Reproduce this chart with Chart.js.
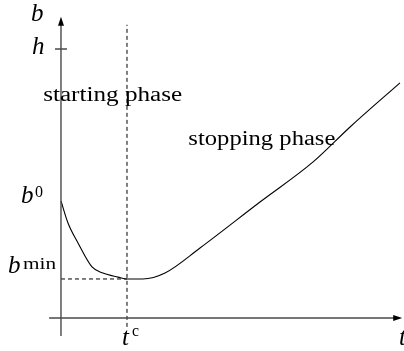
<!DOCTYPE html>
<html>
<head>
<meta charset="utf-8">
<script src="https://cdn.jsdelivr.net/npm/chart.js@4"></script>
<style>
html,body{margin:0;padding:0;background:#fff;}
#wrap{width:404px;height:351px;}
</style>
</head>
<body>
<div id="wrap"><canvas id="c" width="404" height="351"></canvas></div>
<script>
// --- data (t = time, b = value) ---
const curveT = [0, 0.106, 0.258, 0.47, 0.636, 0.864, 1.0, 1.24, 1.576, 2.106, 3.015, 3.82, 4.38, 5.136];
const curveB = [4.35, 3.53, 2.79, 1.90, 1.67, 1.52, 1.45, 1.45, 1.67, 2.60, 4.31, 5.80, 7.10, 8.74];
const tC = 1.0;          // t^c
const bMin = 1.45;       // b^min
const b0 = 4.35;         // b^0
const hLevel = 10.0;     // h
const phaseLabels = ["starting phase", "stopping phase"];
const phaseT = [-0.27, 1.93];
const phaseB = [8.08, 6.43];
const xRange = [-0.924, 5.197];
const yRange = [-1.227, 11.82];
const axisXEnd = [-0.18, 5.17];
const axisYEnd = [-0.67, 11.2];

const curve = curveT.map((t, i) => ({x: t, y: curveB[i]}));

const annot = {
  id: 'annot',
  afterDatasetsDraw(chart) {
    const ctx = chart.ctx;
    const xs = chart.scales.x, ys = chart.scales.y;
    const X = v => xs.getPixelForValue(v), Y = v => ys.getPixelForValue(v);
    ctx.save();
    // axes
    ctx.strokeStyle = '#4a4a4a';
    ctx.fillStyle = '#000';
    ctx.lineWidth = 1.4;
    ctx.beginPath();
    ctx.moveTo(X(0), Y(axisYEnd[0])); ctx.lineTo(X(0), Y(axisYEnd[1]) + 6);
    ctx.moveTo(X(axisXEnd[0]), Y(0)); ctx.lineTo(X(axisXEnd[1]) - 6, Y(0));
    // h tick
    ctx.moveTo(X(0) - 6, Y(hLevel)); ctx.lineTo(X(0) + 6, Y(hLevel));
    ctx.stroke();
    // arrow heads
    let ax = X(0), ay = Y(axisYEnd[1]);
    ctx.beginPath(); ctx.moveTo(ax, ay); ctx.lineTo(ax - 3, ay + 9); ctx.lineTo(ax + 3, ay + 9); ctx.closePath(); ctx.fill();
    ax = X(axisXEnd[1]); ay = Y(0);
    ctx.beginPath(); ctx.moveTo(ax, ay); ctx.lineTo(ax - 9, ay - 3); ctx.lineTo(ax - 9, ay + 3); ctx.closePath(); ctx.fill();

    // texts
    ctx.fillStyle = '#000';
    ctx.textBaseline = 'alphabetic';
    ctx.textAlign = 'left';
    const itI = 'italic 25px "Liberation Serif"';
    const sup = '16px "Liberation Serif"';
    const supW = (s, x, y, w) => {
      ctx.save(); ctx.font = sup;
      const m = ctx.measureText(s).width;
      ctx.translate(x, y); ctx.scale(w / m, 1); ctx.fillText(s, 0, 0); ctx.restore();
    };
    ctx.font = itI;
    ctx.fillText('b', 31, 21);
    ctx.fillText('h', 32, Y(hLevel) + 5);
    // b^0
    ctx.fillText('b', 21, Y(b0) + 2);
    supW('0', 35, Y(b0) - 4, 8);
    // b^min
    ctx.font = itI; ctx.fillText('b', 8, Y(bMin) - 6);
    supW('min', 23, Y(bMin) - 10, 33);
    // t^c
    ctx.font = itI; ctx.fillText('t', X(tC) - 5, 345);
    supW('c', X(tC) + 5, 336, 7);
    // axis label t (cut at right edge)
    ctx.font = itI; ctx.fillText('t', 399, 345);
    // phase labels
    ctx.font = '20px "Liberation Serif"';
    phaseLabels.forEach((s, i) => {
      ctx.save();
      const w = ctx.measureText(s).width;
      ctx.translate(X(phaseT[i]), Y(phaseB[i]));
      ctx.scale(i === 0 ? 139 / w : 147 / w, 1);
      ctx.fillText(s, 0, 0);
      ctx.restore();
    });
    ctx.restore();
  }
};

new Chart(document.getElementById('c'), {
  type: 'line',
  data: {
    datasets: [
      {data: curve, borderColor: '#000', borderWidth: 1.1, pointRadius: 0, cubicInterpolationMode: 'monotone', fill: false},
      {data: [{x: tC, y: -0.33}, {x: tC, y: 10.9}], borderColor: '#000', borderWidth: 1, borderDash: [4, 3], pointRadius: 0},
      {data: [{x: 0, y: bMin}, {x: tC, y: bMin}], borderColor: '#000', borderWidth: 1, borderDash: [4, 3], pointRadius: 0}
    ]
  },
  options: {
    responsive: false,
    animation: false,
    devicePixelRatio: 1,
    layout: {padding: 0},
    plugins: {legend: {display: false}, tooltip: {enabled: false}},
    scales: {
      x: {type: 'linear', display: false, min: xRange[0], max: xRange[1]},
      y: {type: 'linear', display: false, min: yRange[0], max: yRange[1]}
    }
  },
  plugins: [annot]
});
</script>
</body>
</html>
